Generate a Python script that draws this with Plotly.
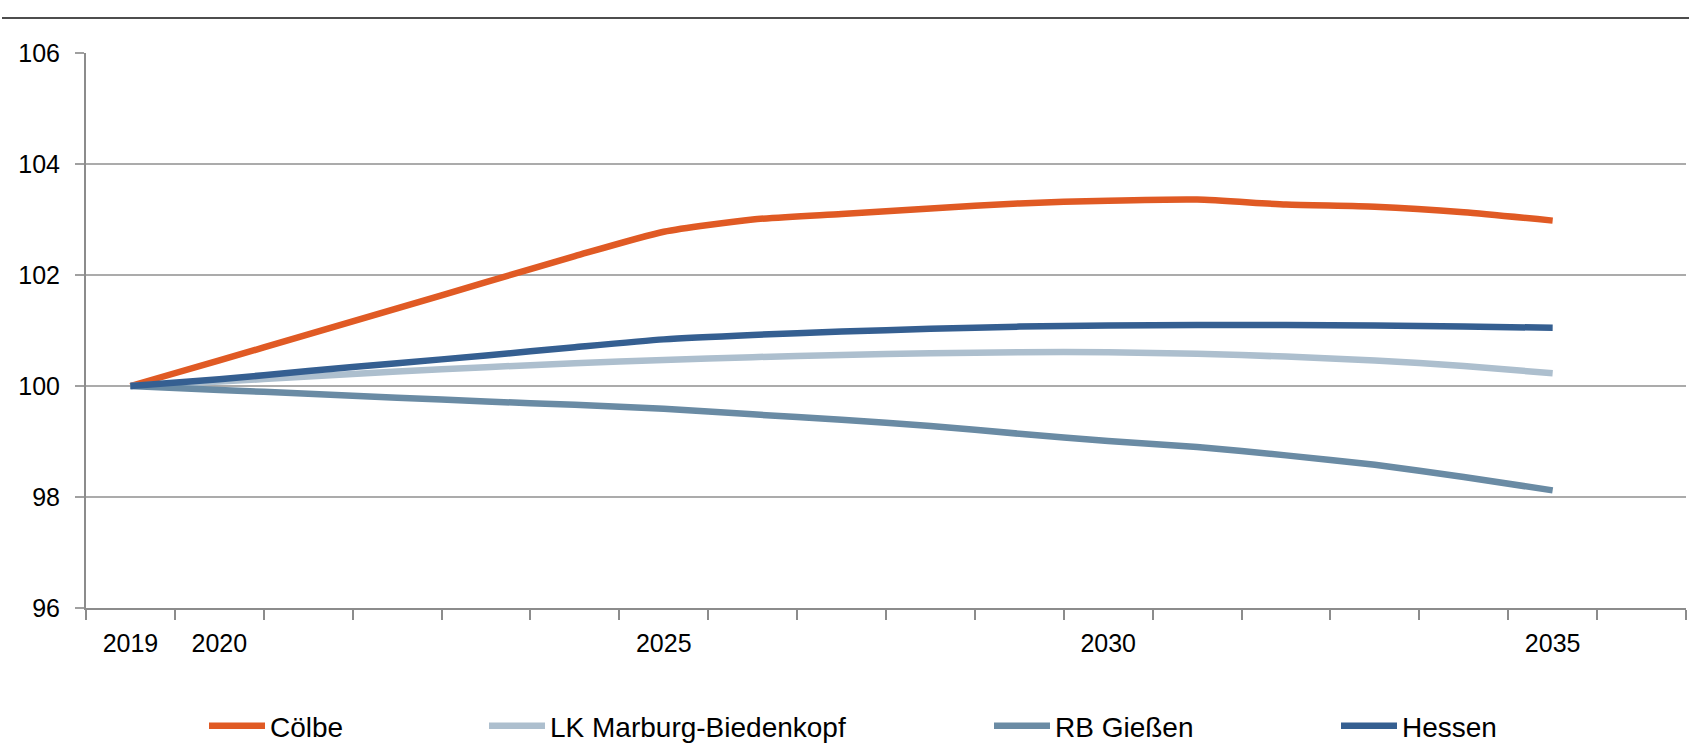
import plotly.graph_objects as go

years = list(range(2019, 2036))
coelbe = [100.0, 100.46, 100.93, 101.40, 101.87, 102.34, 102.78, 103.00, 103.10, 103.20,
          103.29, 103.34, 103.36, 103.27, 103.23, 103.13, 102.98]
lk_marburg = [100.0, 100.08, 100.17, 100.26, 100.34, 100.41, 100.47, 100.52, 100.56, 100.59,
              100.61, 100.61, 100.58, 100.53, 100.46, 100.36, 100.23]
rb_giessen = [100.0, 99.93, 99.86, 99.79, 99.72, 99.66, 99.59, 99.49, 99.39, 99.28,
              99.14, 99.01, 98.90, 98.75, 98.58, 98.36, 98.12]
hessen = [100.0, 100.12, 100.27, 100.41, 100.55, 100.70, 100.84, 100.92, 100.98, 101.03,
          101.07, 101.09, 101.10, 101.10, 101.09, 101.07, 101.05]

x_labels = [2019, 2020, 2025, 2030, 2035]
y_ticks = [96, 98, 100, 102, 104, 106]

series = [
    ("Cölbe", coelbe, "#E05A24"),
    ("LK Marburg-Biedenkopf", lk_marburg, "#ADBFCE"),
    ("RB Gießen", rb_giessen, "#6A8BA4"),
    ("Hessen", hessen, "#355F91"),
]

FONT = "Liberation Sans, Arial, sans-serif"
L, R, T, B = 86, 3, 53, 135
W, H = 1689, 743
PW, PH = W - L - R, H - T - B

# left edge of each legend line, px
leg_px = [212, 492, 997, 1344]
leg_names = ["legend", "legend2", "legend3", "legend4"]

fig = go.Figure()
for (name, vals, col), lg in zip(series, leg_names):
    fig.add_trace(go.Scatter(x=years, y=vals, name=name, mode="lines", legend=lg,
                             line=dict(color=col, width=6.5, shape="spline", smoothing=0.6)))

fig.add_shape(type="line", xref="paper", yref="paper", x0=(2 - L) / PW, x1=(W - L) / PW,
              y0=1.0 + (T - 18) / PH, y1=1.0 + (T - 18) / PH,
              line=dict(color="#4d4d4d", width=2))

legends = {}
for lg, px in zip(leg_names, leg_px):
    legends[lg] = dict(orientation="h", x=(px - 8 - L) / PW, xanchor="left",
                       y=-(726 - (H - B)) / PH, yanchor="middle",
                       font=dict(size=28, color="#000000"), itemwidth=56,
                       bgcolor="rgba(0,0,0,0)")

fig.update_layout(
    width=W, height=H,
    margin=dict(l=L, r=R, t=T, b=B, autoexpand=False),
    plot_bgcolor="white", paper_bgcolor="white",
    font=dict(family=FONT, size=25, color="#000000"),
    showlegend=True,
    xaxis=dict(range=[2018.5, 2036.5], tickmode="array", tickvals=x_labels,
               ticktext=[str(v) for v in x_labels], ticks="", showgrid=False,
               showline=True, linecolor="#8c8c8c", linewidth=2, zeroline=False,
               ticklabelstandoff=12,
               minor=dict(tickmode="linear", tick0=2018.5, dtick=1, ticks="outside",
                          ticklen=10, tickcolor="#8c8c8c", tickwidth=2, showgrid=False)),
    yaxis=dict(range=[96, 106], tickmode="array", tickvals=y_ticks, ticks="outside",
               ticklen=9, tickcolor="#a0a0a0", tickwidth=2, showgrid=True,
               gridcolor="#ababab", gridwidth=1.5, showline=True, linecolor="#8c8c8c",
               linewidth=2, zeroline=False, ticklabelstandoff=10),
    **legends,
)

# page body has a default 8px margin; remove it so the figure sits at the window corner
fig.write_html("out.html", config={"displayModeBar": False},
               post_script="document.body.style.margin='0';")
